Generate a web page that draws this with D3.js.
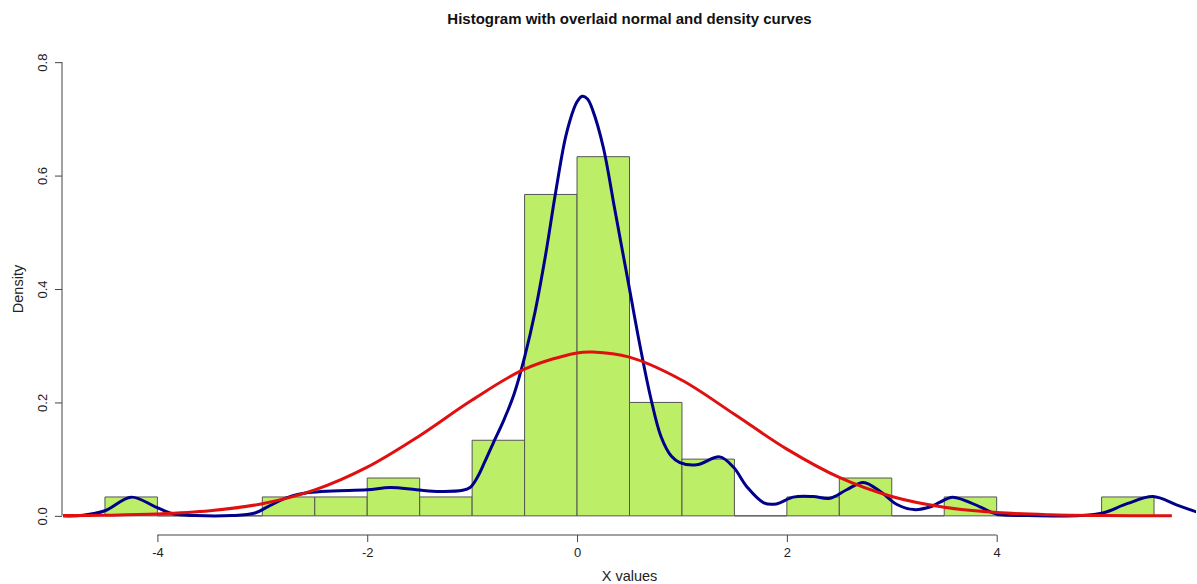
<!DOCTYPE html>
<html lang="en">
<head>
  <meta charset="UTF-8">
  <title>Histogram with overlaid normal and density curves</title>
  <script src="https://d3js.org/d3.v7.min.js"></script>
  <style>
    body { margin: 0; background: #fff; }
    svg { display: block; font-family: "Liberation Sans", Arial, sans-serif; }
  </style>
</head>
<body>

<script>
// histogram bins (break edges) and density heights
const breaks = [-4.5, -4, -3.5, -3, -2.5, -2, -1.5, -1, -0.5, 0, 0.5, 1, 1.5, 2, 2.5, 3, 3.5, 4, 4.5, 5, 5.5];
const densities = [0.0333, 0, 0, 0.0333, 0.0333, 0.0667, 0.0333, 0.1333, 0.5667, 0.6333,
                   0.2, 0.1, 0, 0.0333, 0.0667, 0, 0.0333, 0, 0, 0.0333];

// kernel density curve (blue)
const densX = [-4.9, -4.71, -4.5, -4.25, -4.02, -3.86, -3.64, -3.29, -3.07, -2.95, -2.75, -2.56, -2.33, -2.0, -1.78,
               -1.53, -1.31, -1.09, -1.02, -0.95, -0.88, -0.8, -0.7, -0.6, -0.5, -0.4, -0.3, -0.2, -0.1, 0.0, 0.05,
               0.1, 0.15, 0.25, 0.36, 0.49, 0.6, 0.7, 0.8, 0.9, 0.98, 1.14, 1.36, 1.49, 1.62, 1.78, 1.9, 2.06, 2.25,
               2.41, 2.57, 2.73, 2.89, 3.05, 3.21, 3.37, 3.46, 3.58, 3.84, 4.0, 4.3, 4.8, 5.01, 5.25, 5.49, 5.72, 5.95];
const densY = [0.0, 0.001, 0.009, 0.033, 0.016, 0.004, 0.0005, 0.0005, 0.005, 0.016, 0.033, 0.041, 0.044, 0.046, 0.05,
               0.046, 0.043, 0.045, 0.05, 0.068, 0.095, 0.128, 0.168, 0.215, 0.28, 0.36, 0.46, 0.575, 0.675, 0.73, 0.74,
               0.735, 0.715, 0.65, 0.54, 0.41, 0.3, 0.21, 0.14, 0.105, 0.094, 0.09, 0.104, 0.086, 0.051, 0.023, 0.021, 0.033, 0.034,
               0.031, 0.046, 0.059, 0.043, 0.02, 0.011, 0.016, 0.024, 0.033, 0.016, 0.003, 0.0005, 0.0005, 0.005, 0.022, 0.034, 0.019, 0.004];

// normal curve (red)
const normX = [-4.9, -4.5, -4, -3.5, -3, -2.5, -2, -1.5, -1, -0.5, 0, 0.15, 0.5, 1, 1.5, 2, 2.5, 3, 3.5, 4, 4.5, 5, 5.67];
const normY = [0.0004, 0.001, 0.0031, 0.0088, 0.0214, 0.0457, 0.0859, 0.1414, 0.2042, 0.2587, 0.2873, 0.289, 0.2798,
               0.2391, 0.1791, 0.1177, 0.0678, 0.0342, 0.0152, 0.0059, 0.002, 0.0006, 0.0001];

const xTicks = [-4, -2, 0, 2, 4];
const yTicks = [0.0, 0.2, 0.4, 0.6, 0.8];

const width = 1197, height = 584;
const plotLeft = 63, plotRight = 1196, plotTop = 44, plotBottom = 534;

const svg = d3.select("body").append("svg")
  .attr("width", width)
  .attr("height", height);

// R style: 4% padding around the data range
const x = d3.scaleLinear().domain([-4.9, 5.9]).range([plotLeft, plotRight]);
const y = d3.scaleLinear().domain([-0.032, 0.832]).range([plotBottom, plotTop]);

svg.append("clipPath").attr("id", "plotclip")
  .append("rect").attr("x", plotLeft).attr("y", plotTop)
  .attr("width", plotRight - plotLeft).attr("height", plotBottom - plotTop);

const plot = svg.append("g").attr("clip-path", "url(#plotclip)");

// bars (paths so that empty bins still show a baseline)
plot.selectAll(".bar")
  .data(densities)
  .enter().append("path")
  .attr("class", "bar")
  .attr("d", (d, i) => {
    const x0 = x(breaks[i]), x1 = x(breaks[i + 1]);
    return `M${x0},${y(0)}V${y(d)}H${x1}V${y(0)}Z`;
  })
  .attr("fill", "#bcee68")
  .attr("stroke", "#555")
  .attr("stroke-width", 1);

const line = d3.line()
  .x(d => x(d[0]))
  .y(d => y(d[1]))
  .curve(d3.curveCatmullRom);

plot.append("path")
  .attr("d", line(d3.zip(densX, densY)))
  .attr("fill", "none")
  .attr("stroke", "#00008b")
  .attr("stroke-width", 3);

plot.append("path")
  .attr("d", line(d3.zip(normX, normY)))
  .attr("fill", "none")
  .attr("stroke", "#e01010")
  .attr("stroke-width", 3);

// x axis
const xAxis = svg.append("g").attr("transform", `translate(0,${plotBottom + 1})`)
  .call(d3.axisBottom(x).tickValues(xTicks).tickSize(7).tickPadding(6).tickSizeOuter(0)
    .tickFormat(d => String(d)));
xAxis.select(".domain").attr("d", `M${x(-4)},0H${x(4)}`);

// y axis
const yAxis = svg.append("g").attr("transform", `translate(${plotLeft - 1},0)`)
  .call(d3.axisLeft(y).tickValues(yTicks).tickSize(7).tickSizeOuter(0)
    .tickFormat(d => d.toFixed(1)));
yAxis.select(".domain").attr("d", `M0,${y(0)}V${y(0.8)}`);
yAxis.selectAll(".tick text")
  .attr("x", 0).attr("y", 0).attr("dy", 0)
  .attr("transform", "translate(-15,0) rotate(-90)")
  .attr("text-anchor", "middle");

svg.selectAll(".domain, .tick line").attr("stroke", "#444");
svg.selectAll(".tick text").attr("font-size", 13).attr("fill", "#222")
  .attr("font-family", "Liberation Sans, Arial, sans-serif");

// titles
svg.append("text")
  .attr("x", (plotLeft + plotRight) / 2).attr("y", 24)
  .attr("text-anchor", "middle")
  .attr("font-size", 15).attr("font-weight", "bold").attr("fill", "#111")
  .text("Histogram with overlaid normal and density curves");

svg.append("text")
  .attr("x", (plotLeft + plotRight) / 2).attr("y", 581)
  .attr("text-anchor", "middle")
  .attr("font-size", 14.5).attr("fill", "#222")
  .text("X values");

svg.append("text")
  .attr("transform", `translate(23,${(plotTop + plotBottom) / 2}) rotate(-90)`)
  .attr("text-anchor", "middle")
  .attr("font-size", 14.5).attr("fill", "#222")
  .text("Density");
</script>

</body>
</html>
